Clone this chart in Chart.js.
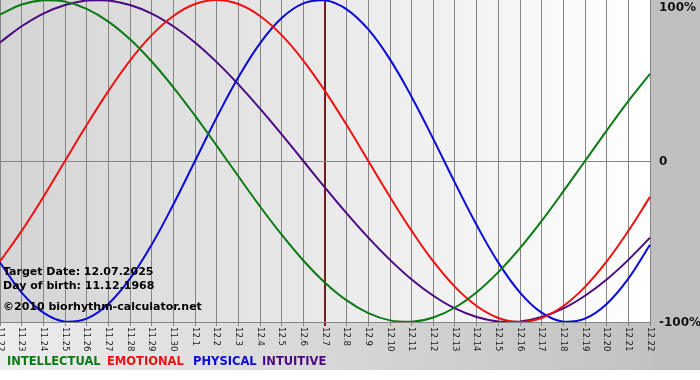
<!DOCTYPE html>
<html>
<head>
<meta charset="utf-8">
<script src="https://cdn.jsdelivr.net/npm/chart.js@4/dist/chart.umd.min.js"></script>
<style>
  html, body { margin: 0; padding: 0; background: #ffffff; }
  #wrap { width: 700px; height: 380px; }
  canvas { display: block; }
</style>
</head>
<body>
<div id="wrap"><canvas id="c" width="700" height="380"></canvas></div>
<script>
const categories = ['11.22','11.23','11.24','11.25','11.26','11.27','11.28','11.29','11.30',
  '12.1','12.2','12.3','12.4','12.5','12.6','12.7','12.8','12.9','12.10','12.11','12.12',
  '12.13','12.14','12.15','12.16','12.17','12.18','12.19','12.20','12.21','12.22'];

const intellectual = [91.0, 97.2, 99.9, 99.0, 94.5, 86.6, 75.6, 61.8, 45.8, 28.2, 9.5, -9.5, -28.2, -45.8, -61.8, -75.6, -86.6, -94.5, -99.0, -99.9, -97.2, -91.0, -81.5, -69.0, -54.1, -37.2, -18.9, 0, 18.9, 37.2, 54.1];
const emotional = [-62.4, -43.4, -22.3, 0, 22.3, 43.4, 62.4, 78.2, 90.1, 97.5, 100, 97.5, 90.1, 78.2, 62.4, 43.4, 22.3, 0, -22.3, -43.4, -62.4, -78.2, -90.1, -97.5, -100, -97.5, -90.1, -78.2, -62.4, -43.4, -22.3];
const physical = [-63.1, -81.7, -94.2, -99.8, -97.9, -88.8, -73.1, -52.0, -27.0, 0, 27.0, 52.0, 73.1, 88.8, 97.9, 99.8, 94.2, 81.7, 63.1, 39.8, 13.6, -13.6, -39.8, -63.1, -81.7, -94.2, -99.8, -97.9, -88.8, -73.1, -52.0];
const intuitive = [73.6, 83.7, 91.6, 96.9, 99.7, 99.7, 96.9, 91.6, 83.7, 73.6, 61.4, 47.6, 32.5, 16.5, 0, -16.5, -32.5, -47.6, -61.4, -73.6, -83.7, -91.6, -96.9, -99.7, -99.7, -96.9, -91.6, -83.7, -73.6, -61.4, -47.6];

const yTickValues = [100, 0, -100];
const yTickLabels = ['100%', '0', '-100%'];
const targetIndex = 15;
const infoLines = ['Target Date: 12.07.2025', 'Day of birth: 11.12.1968', '\u00A92010 biorhythm-calculator.net'];
const seriesNames = ['INTELLECTUAL', 'EMOTIONAL', 'PHYSICAL', 'INTUITIVE'];
const seriesColors = ['#0a7a14', '#ee1111', '#0a0ad8', '#4b0a82'];

const bgPlugin = {
  id: 'bg',
  beforeDraw(chart) {
    const ctx = chart.ctx, a = chart.chartArea;
    ctx.save();
    ctx.fillStyle = '#ffffff';
    ctx.fillRect(0, 0, 700, 380);
    const g = ctx.createLinearGradient(0, 0, 651, 0);
    g.addColorStop(0, '#ececec');
    g.addColorStop(1, '#c2c2c2');
    ctx.fillStyle = g;
    ctx.fillRect(0, 0, 651, 370);
    ctx.fillStyle = '#c0c0c0';
    ctx.fillRect(651, 0, 49, 370);
    const g2 = ctx.createLinearGradient(a.left, 0, a.right, 0);
    g2.addColorStop(0, '#d4d4d4');
    g2.addColorStop(1, '#ffffff');
    ctx.fillStyle = g2;
    ctx.fillRect(a.left, a.top, a.right - a.left, a.bottom - a.top);
    ctx.restore();
  }
};

const textPlugin = {
  id: 'texts',
  afterDraw(chart) {
    const ctx = chart.ctx, xs = chart.scales.x, ys = chart.scales.y, a = chart.chartArea;
    ctx.save();
    // x labels, rotated clockwise
    ctx.font = '9.5px "DejaVu Sans Condensed", "DejaVu Sans", sans-serif';
    ctx.fillStyle = '#1a1a1a';
    ctx.textAlign = 'left';
    ctx.textBaseline = 'middle';
    categories.forEach((lab, i) => {
      const x = xs.getPixelForValue(i);
      ctx.save();
      ctx.translate(x, a.bottom + 5);
      ctx.rotate(Math.PI / 2);
      ctx.fillText(lab, 0, 0);
      ctx.restore();
    });
    // y labels on the right
    ctx.font = 'bold 12px "DejaVu Sans", sans-serif';
    ctx.fillStyle = '#111111';
    ctx.textBaseline = 'middle';
    yTickValues.forEach((v, i) => {
      let y = ys.getPixelForValue(v);
      y = Math.max(7, Math.min(y, 380));
      ctx.fillText(yTickLabels[i], a.right + 9, y + 1);
    });
    // info text
    ctx.font = 'bold 11px "DejaVu Sans", sans-serif';
    ctx.fillStyle = '#000000';
    const infoY = [272, 286, 307];
    infoLines.forEach((t, i) => ctx.fillText(t, 3, infoY[i]));
    // legend
    ctx.font = 'bold 11.5px "DejaVu Sans", sans-serif';
    const lx = [7, 107, 193, 262];
    seriesNames.forEach((n, i) => {
      ctx.fillStyle = seriesColors[i];
      ctx.fillText(n, lx[i], 362);
    });
    ctx.restore();
  }
};

const ds = (label, data, color) => ({
  label, data, borderColor: color, backgroundColor: color,
  borderWidth: 2, pointRadius: 0, tension: 0.4, fill: false
});

new Chart(document.getElementById('c'), {
  type: 'line',
  data: {
    labels: categories,
    datasets: [
      ds('INTELLECTUAL', intellectual, seriesColors[0]),
      ds('EMOTIONAL', emotional, seriesColors[1]),
      ds('PHYSICAL', physical, seriesColors[2]),
      ds('INTUITIVE', intuitive, seriesColors[3])
    ]
  },
  options: {
    responsive: false,
    devicePixelRatio: 1,
    animation: false,
    layout: { padding: 0 },
    plugins: { legend: { display: false }, tooltip: { enabled: false } },
    scales: {
      x: {
        type: 'category',
        offset: false,
        ticks: { display: false },
        grid: {
          color: c => c.index === targetIndex ? '#7a1a1a' : '#858585',
          lineWidth: c => c.index === targetIndex ? 2 : 1,
          drawTicks: true,
          tickLength: 4
        },
        border: { display: true, color: '#858585' },
        afterFit: s => { s.height = 58; }
      },
      y: {
        position: 'right',
        min: -100, max: 100,
        ticks: { display: false, stepSize: 100 },
        grid: {
          color: c => (c.tick && c.tick.value === 0) ? '#858585' : 'rgba(0,0,0,0)',
          drawTicks: false
        },
        border: { display: false },
        afterFit: s => { s.width = 50; }
      }
    }
  },
  plugins: [bgPlugin, textPlugin]
});
</script>
</body>
</html>
